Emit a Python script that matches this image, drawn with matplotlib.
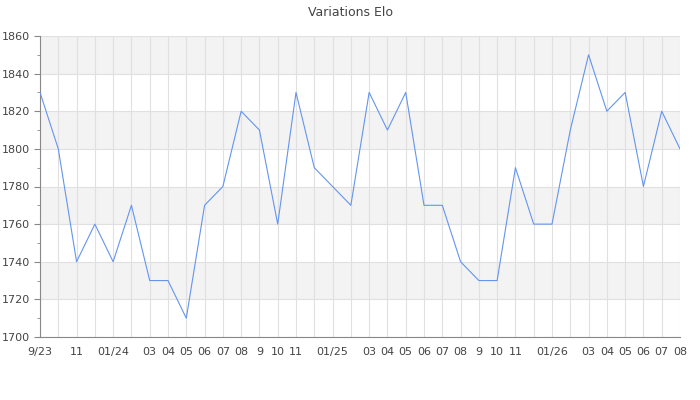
import numpy as np
import matplotlib.pyplot as plt
from matplotlib.ticker import MultipleLocator

# monthly Elo, 9/23 -> 08/26
elo = [1830, 1800, 1740, 1760, 1740, 1770, 1730, 1730, 1710, 1770,
       1780, 1820, 1810, 1760, 1830, 1790, 1780, 1770, 1830, 1810,
       1830, 1770, 1770, 1740, 1730, 1730, 1790, 1760, 1760, 1810,
       1850, 1820, 1830, 1780, 1820, 1800]

month_labels = ["9/23", "", "11", "", "01/24", "", "03", "04", "05", "06",
                "07", "08", "9", "10", "11", "", "01/25", "", "03", "04",
                "05", "06", "07", "08", "9", "10", "11", "", "01/26", "",
                "03", "04", "05", "06", "07", "08"]

x = np.arange(len(elo))

fig = plt.figure(figsize=(7, 4), dpi=100)
ax = fig.add_axes([40 / 700, 63 / 400, 640 / 700, 301 / 400])

# alternating bands
for lo in range(1720, 1860, 40):
    ax.axhspan(lo, lo + 20, color="#f3f3f3", zorder=0, lw=0)

ax.plot(x, elo, color="#6495ed", lw=0.8, zorder=3)

ax.set_xlim(0, len(elo) - 1)
ax.set_ylim(1700, 1860)
ax.set_xticks(x)
ax.set_xticklabels(month_labels)
ax.yaxis.set_major_locator(MultipleLocator(20))
ax.yaxis.set_minor_locator(MultipleLocator(10))

ax.grid(True, which="major", color="#e0e0e0", lw=0.8, zorder=1)
ax.set_axisbelow(True)

for side in ["top", "right"]:
    ax.spines[side].set_visible(False)
ax.spines["left"].set_color("#888888")
ax.spines["bottom"].set_color("#888888")

ax.tick_params(axis="x", length=0, pad=7, labelsize=8, labelcolor="#444444")
ax.tick_params(axis="y", which="major", length=4, color="#888888",
               labelsize=8, labelcolor="#444444")
ax.tick_params(axis="y", which="minor", length=2, color="#888888")

fig.text(0.5, 0.97, "Variations Elo", ha="center", va="center",
         fontsize=9, color="#444444")

fig.savefig("out.png", dpi=100)
